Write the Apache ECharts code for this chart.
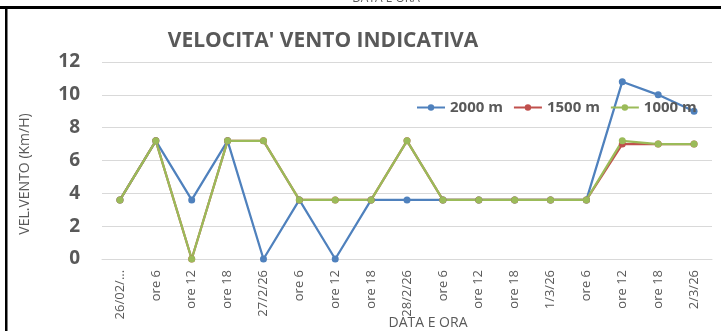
<!DOCTYPE html>
<html>
<head>
<meta charset="utf-8">
<style>
  html, body { margin: 0; padding: 0; background: #fff; }
  #chart { width: 721px; height: 331px; }
</style>
<script src="https://cdn.jsdelivr.net/npm/echarts@6/dist/echarts.min.js"></script>
</head>
<body>
<div id="chart"></div>
<script>
// Time slots (every 6 hours)
const categories = [
  "26/02/…", "ore 6", "ore 12", "ore 18",
  "27/2/26", "ore 6", "ore 12", "ore 18",
  "28/2/26", "ore 6", "ore 12", "ore 18",
  "1/3/26", "ore 6", "ore 12", "ore 18",
  "2/3/26"
];

// Wind speed (km/h) at each altitude
const speed2000 = [3.6, 7.2, 3.6, 7.2, 0, 3.6, 0, 3.6, 3.6, 3.6, 3.6, 3.6, 3.6, 3.6, 10.8, 10, 9];
const speed1500 = [3.6, 7.2, 0, 7.2, 7.2, 3.6, 3.6, 3.6, 7.2, 3.6, 3.6, 3.6, 3.6, 3.6, 7, 7, 7];
const speed1000 = [3.6, 7.2, 0, 7.2, 7.2, 3.6, 3.6, 3.6, 7.2, 3.6, 3.6, 3.6, 3.6, 3.6, 7.2, 7, 7];

const seriesNames = ["2000 m", "1500 m", "1000 m"];
const yTicks = { min: 0, max: 12, interval: 2 };

const FONT = "'Open Sans', 'Liberation Sans', sans-serif";
const GRAY = "#595959";

const chart = echarts.init(document.getElementById('chart'), null, { renderer: 'canvas' });

function lineSeries(name, data, color) {
  return {
    name: name,
    type: 'line',
    data: data,
    symbol: 'circle',
    symbolSize: 7,
    showAllSymbol: true,
    itemStyle: { color: color },
    lineStyle: { color: color, width: 2.25 },
    emphasis: { disabled: true },
    animation: false
  };
}

chart.setOption({
  animation: false,
  backgroundColor: '#fff',
  title: {
    text: "VELOCITA' VENTO INDICATIVA",
    left: 318, top: 26,
    textAlign: 'center',
    textStyle: { fontFamily: FONT, fontWeight: 'bold', fontSize: 21, color: GRAY }
  },
  legend: {
    data: seriesNames,
    left: 411, top: 95,
    itemWidth: 28, itemHeight: 8, itemGap: 10,
    textStyle: { fontFamily: FONT, fontWeight: 'bold', fontSize: 15, color: GRAY }
  },
  grid: { left: 102, right: 9, top: 62, bottom: 72, containLabel: false },
  xAxis: {
    type: 'category',
    data: categories,
    boundaryGap: true,
    axisLine: { lineStyle: { color: '#d9d9d9', width: 1 } },
    axisTick: { show: false },
    axisLabel: {
      rotate: 90, interval: 0, margin: 11,
      fontFamily: FONT, fontSize: 13, color: GRAY
    }
  },
  yAxis: {
    type: 'value',
    min: yTicks.min, max: yTicks.max, interval: yTicks.interval,
    axisLine: { show: false },
    axisTick: { show: false },
    splitLine: { lineStyle: { color: '#d9d9d9', width: 1 } },
    axisLabel: {
      margin: 22,
      fontFamily: FONT, fontWeight: 'bold', fontSize: 19, color: GRAY
    }
  },
  series: [
    lineSeries(seriesNames[0], speed2000, '#4F81BD'),
    lineSeries(seriesNames[1], speed1500, '#C0504D'),
    lineSeries(seriesNames[2], speed1000, '#9BBB59')
  ],
  graphic: [
    // frame lines
    { type: 'rect', shape: { x: 0, y: 6, width: 721, height: 3 }, style: { fill: '#000' }, silent: true },
    { type: 'rect', shape: { x: 5, y: 6, width: 2.5, height: 325 }, style: { fill: '#000' }, silent: true },
    // fragments of the chart above, cut by the frame
    { type: 'text', x: 43, y: 3, style: { text: '0', fontFamily: FONT, fontWeight: 'bold', fontSize: 17, fill: GRAY, align: 'center', verticalAlign: 'bottom' }, silent: true },
    { type: 'text', x: 386, y: 5, style: { text: 'DATA E ORA', fontFamily: FONT, fontSize: 12, fill: GRAY, align: 'center', verticalAlign: 'bottom' }, silent: true, z: -1 },
    // axis names
    { type: 'text', x: 25, y: 174, rotation: Math.PI / 2,
      style: { text: 'VEL.VENTO (Km/H)', fontFamily: FONT, fontSize: 14, fill: GRAY, align: 'center', verticalAlign: 'middle' }, silent: true },
    { type: 'text', x: 428, y: 323,
      style: { text: 'DATA E ORA', fontFamily: FONT, fontSize: 14, fill: GRAY, align: 'center', verticalAlign: 'middle' }, silent: true }
  ]
});
</script>
</body>
</html>
